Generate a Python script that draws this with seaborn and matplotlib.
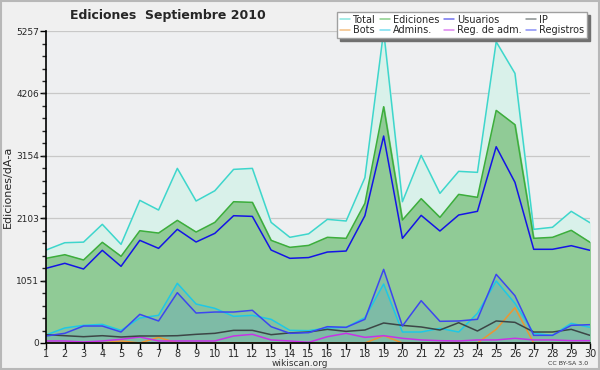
import numpy as np
import pandas as pd
import matplotlib.pyplot as plt
import seaborn as sns
from matplotlib.patches import Rectangle

sns.set_style("white")
plt.rcParams['font.family'] = ['DejaVu Sans']

days = list(range(1, 31))

total = [1567, 1690, 1700, 2000, 1663, 2404, 2241, 2943, 2393, 2566,
         2926, 2943, 2033, 1781, 1840, 2084, 2056, 2786, 5257, 2381,
         3162, 2522, 2893, 2876, 5077, 4544, 1916, 1950, 2219, 2027]
ediciones = [1427, 1488, 1399, 1697, 1461, 1892, 1853, 2067, 1870, 2033,
             2381, 2370, 1730, 1612, 1645, 1781, 1764, 2354, 3982, 2073,
             2432, 2117, 2505, 2455, 3920, 3679, 1764, 1781, 1899, 1697]
usuarios = [1258, 1343, 1247, 1562, 1292, 1730, 1595, 1916, 1702, 1848,
            2145, 2134, 1567, 1427, 1440, 1533, 1550, 2145, 3488, 1764,
            2151, 1887, 2157, 2219, 3308, 2708, 1579, 1579, 1640, 1562]
ip = [140, 123, 106, 123, 101, 118, 118, 123, 146, 163,
      213, 213, 140, 170, 185, 230, 196, 219, 337, 297,
      270, 219, 342, 202, 371, 348, 185, 185, 230, 129]
bots = [0, 0, 0, 0, 34, 0, 95, 0, 0, 0,
        0, 0, 0, 0, 0, 0, 0, 0, 123, 0,
        0, 0, 0, 0, 230, 595, 0, 0, 0, 0]
admins = [135, 253, 297, 314, 213, 421, 466, 1006, 657, 584,
          449, 466, 399, 213, 208, 253, 264, 427, 994, 185,
          185, 247, 185, 500, 1045, 668, 163, 129, 331, 264]
reg_adm = [34, 34, 17, 34, 62, 101, 34, 34, 34, 34,
           118, 146, 51, 34, 11, 106, 163, 95, 123, 79,
           51, 39, 34, 51, 51, 79, 51, 51, 39, 39]
registros = [118, 163, 286, 286, 185, 483, 371, 848, 505, 522,
             522, 551, 275, 163, 174, 275, 264, 399, 1241, 286,
             713, 365, 371, 399, 1157, 797, 129, 129, 297, 309]

yticks = [0, 1051, 2103, 3154, 4206, 5257]

df = pd.DataFrame({"dia": days, "Total": total, "Ediciones": ediciones,
                   "Usuarios": usuarios, "IP": ip, "Bots": bots,
                   "Admins.": admins, "Reg. de adm.": reg_adm,
                   "Registros": registros})

colors = {"Total": "#3ed6cc", "Ediciones": "#3cae3c", "Usuarios": "#1414e6",
          "IP": "#3c4646", "Bots": "#ec9632", "Admins.": "#1ec8e6",
          "Reg. de adm.": "#c832e6", "Registros": "#3c46f0"}

fig = plt.figure(figsize=(6, 3.7), dpi=100, facecolor="#f0f0f0")
fig.patches.append(Rectangle((0.002, 0.004), 0.996, 0.994, transform=fig.transFigure,
                             fill=False, edgecolor="#b8b8b8", lw=1.5))
ax = fig.add_axes([0.0767, 0.073, 0.9066, 0.843])
ax.set_facecolor("#eeeff1")

# areas
ax.fill_between(df["dia"], df["Total"], color="#d9f1ea", zorder=1)
ax.fill_between(df["dia"], df["Ediciones"], color="#90cb96", zorder=2)
ax.fill_between(df["dia"], df["Admins."], color="#5a9cc8", alpha=0.18, lw=0, zorder=3)
ax.fill_between(df["dia"], df["Registros"], color="#5a9cc8", alpha=0.18, lw=0, zorder=3)

order = ["Total", "Bots", "Ediciones", "Admins.", "Usuarios",
         "Reg. de adm.", "IP", "Registros"]
for name in order:
    sns.lineplot(data=df, x="dia", y=name, color=colors[name], lw=1.1,
                 ax=ax, label=name, zorder=5)

ax.set_xlim(1, 30)
ax.set_ylim(0, 5257)
ax.set_xticks(days)
ax.set_yticks(yticks)
ax.set_yticks(np.linspace(0, 5257, 26), minor=True)
ax.tick_params(axis="both", which="major", labelsize=6.5, length=4, width=1,
               direction="out", pad=1, color="black", left=True, bottom=True)
ax.tick_params(axis="y", which="minor", length=3, width=1, left=True)
ax.tick_params(axis="x", labelsize=7, pad=0.5)
ax.grid(axis="y", color="#c8c8c8", lw=0.9, zorder=0)
ax.set_axisbelow(True)
for s in ["top", "right"]:
    ax.spines[s].set_visible(False)
for s in ["left", "bottom"]:
    ax.spines[s].set_color("black")
    ax.spines[s].set_linewidth(1.2)
    ax.spines[s].set_zorder(8)
ax.set_xlabel("")
ax.set_ylabel("Ediciones/dÃ\u00ada", fontsize=8, labelpad=2)

leg = ax.legend(ncol=4, loc="upper right", bbox_to_anchor=(0.978, 0.968),
                bbox_transform=fig.transFigure, fontsize=7, frameon=True,
                fancybox=False, shadow={"color": "#707070", "alpha": 1},
                handlelength=1.0, handletextpad=0.3, columnspacing=0.5,
                labelspacing=0.05, borderpad=0.3, borderaxespad=0)
leg.get_frame().set_edgecolor("#a0a0a0")
leg.get_frame().set_facecolor("white")
for line in leg.get_lines():
    line.set_alpha(0.6)
leg.set_zorder(10)

fig.text(0.28, 0.958, "Ediciones  Septiembre 2010", fontsize=9,
         fontweight="bold", ha="center", va="center")
fig.text(0.5, 0.018, "wikiscan.org", fontsize=6.5, ha="center", va="center", color="#333333")
fig.text(0.98, 0.018, "CC BY-SA 3.0", fontsize=4.5, ha="right", va="center", color="#333333")

fig.savefig("out.png", dpi=100, facecolor=fig.get_facecolor())
